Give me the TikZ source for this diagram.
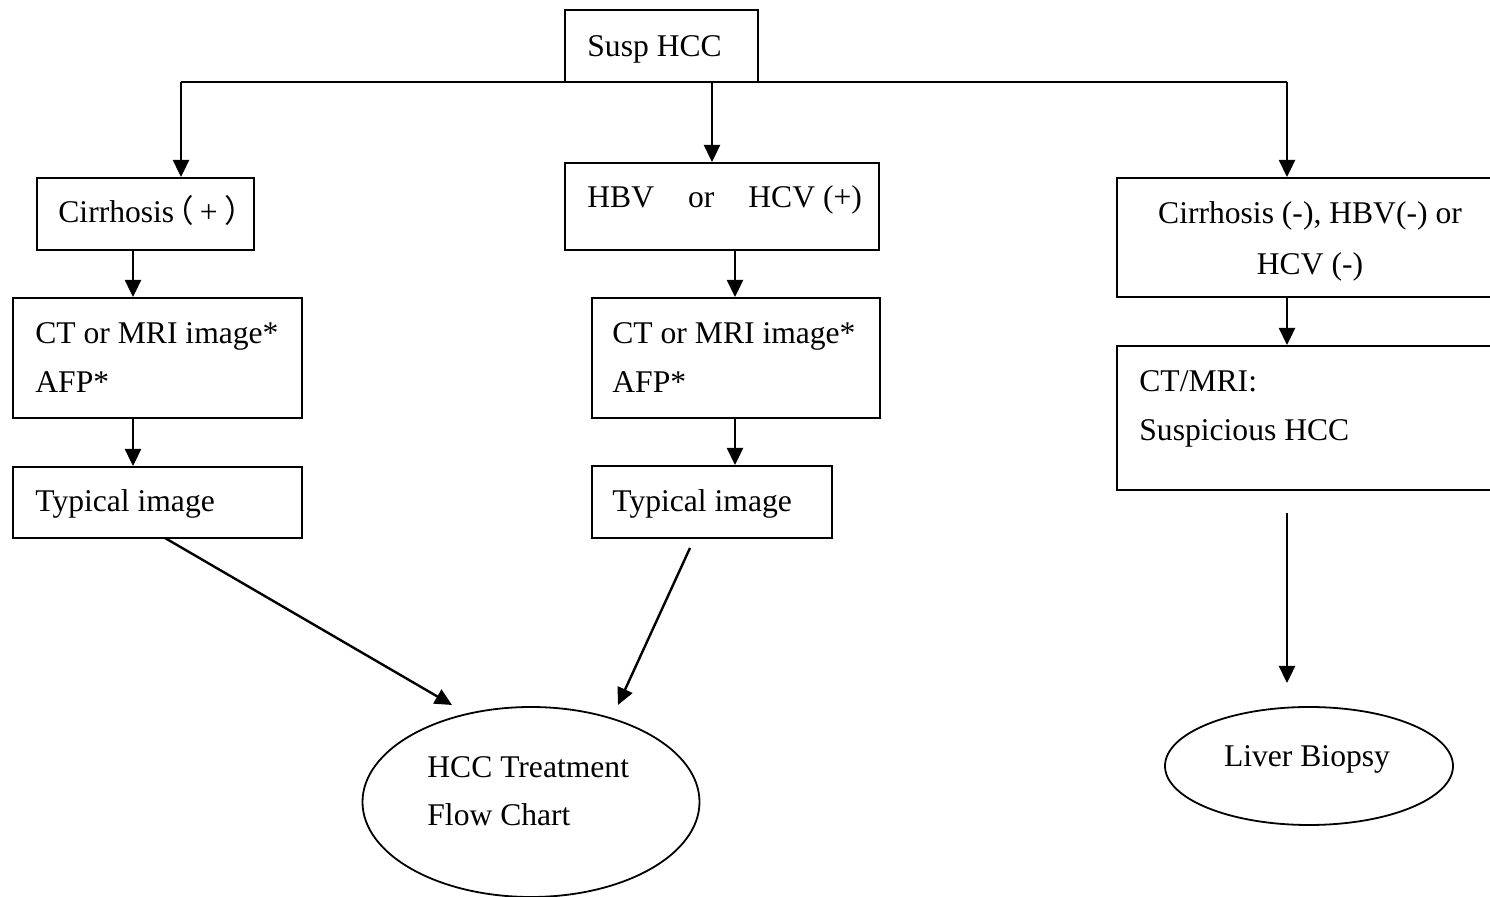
\documentclass[tikz,border=0pt]{standalone}
\usepackage{fontspec}
\setmainfont{Liberation Serif}
\newfontfamily\cjk{Noto Sans CJK SC}
\usetikzlibrary{arrows.meta,fit,shapes.geometric}
\begin{document}
\begin{tikzpicture}[x=0.5pt,y=-0.5pt,
  box/.style={draw,line width=1pt,inner sep=0pt},
  ell/.style={draw,ellipse,line width=0.9pt,inner sep=0pt},
  txt/.style={anchor=base west,inner sep=0pt,font=\fontsize{15.8pt}{24.5pt}\selectfont},
  ctxt/.style={anchor=base,inner sep=0pt,font=\fontsize{15.8pt}{24.5pt}\selectfont},
  arr/.style={-{Triangle[length=8.5pt,width=8pt]},line width=1.2pt},
  ln/.style={line width=1.2pt}]
\useasboundingbox (0,0) rectangle (1490,897);
\clip (0,0) rectangle (1490,897);
% boxes
\node[box,fit={(565,10)(758,82)}] (susp) {};
\node[box,fit={(37,178)(254,250)}] (cir) {};
\node[box,fit={(565,163)(879,250)}] (hbv) {};
\node[box,fit={(1117,178)(1510,297)}] (neg) {};
\node[box,fit={(13,298)(302,418)}] (ct1) {};
\node[box,fit={(592,298)(880,418)}] (ct2) {};
\node[box,fit={(1117,346)(1510,490)}] (ct3) {};
\node[box,fit={(13,467)(302,538)}] (typ1) {};
\node[box,fit={(592,466)(832,538)}] (typ2) {};
\node[ell,minimum width=168.5pt,minimum height=95pt] (hcc) at (531,802) {};
\node[ell,minimum width=144pt,minimum height=59pt] (liver) at (1309,766) {};
% texts
\node[txt] (tsusp) at (587,57) {Susp HCC};
\node[txt] (tcir) at (58,223) {Cirrhosis\kern-6pt{\cjk（}\kern3pt+\kern3.5pt{\cjk）}};
\node[txt] (thbv) at (587,208) {HBV\hspace*{17pt}or\hspace*{17pt}HCV (+)};
\node[ctxt] (tneg1) at (1310,224) {Cirrhosis (-), HBV(-) or};
\node[ctxt] (tneg2) at (1310,275) {HCV (-)};
\node[txt] (tct1a) at (35,344) {CT or MRI image*};
\node[txt] (tct1b) at (35,393) {AFP*};
\node[txt] (tct2a) at (612,344) {CT or MRI image*};
\node[txt] (tct2b) at (612,393) {AFP*};
\node[txt] (ttyp1) at (35,512) {Typical image};
\node[txt] (ttyp2) at (612,512) {Typical image};
\node[txt] (tct3a) at (1139,392) {CT/MRI:};
\node[txt] (tct3b) at (1139,441) {Suspicious HCC};
\node[txt] (thcc1) at (427,778) {HCC Treatment};
\node[txt] (thcc2) at (427,826) {Flow Chart};
\node[ctxt] (tliver) at (1307,767) {Liver Biopsy};
% coordinates
\coordinate (c1) at (181,82);
\coordinate (c2) at (712,82);
\coordinate (c3) at (1287,82);
\coordinate (a1) at (133,0);
\coordinate (a2) at (735,0);
\coordinate (s1) at (165,538);
\coordinate (e1) at (452,705);
\coordinate (s2) at (690,548);
\coordinate (e2) at (618,705);
\coordinate (s3) at (1287,513);
\coordinate (e3) at (1287,683);
% connectors
\draw[ln] (c1) -- (c3);
\draw[arr] (c1) -- (cir.north -| c1);
\draw[arr] (c2) -- (hbv.north -| c2);
\draw[arr] (c3) -- (neg.north -| c3);
\draw[arr] (cir.south -| a1) -- (ct1.north -| a1);
\draw[arr] (ct1.south -| a1) -- (typ1.north -| a1);
\draw[arr] (hbv.south -| a2) -- (ct2.north -| a2);
\draw[arr] (ct2.south -| a2) -- (typ2.north -| a2);
\draw[arr] (neg.south -| c3) -- (ct3.north -| c3);
\draw[arr] (s1) -- (e1);
\draw[arr] (s2) -- (e2);
\draw[arr] (s3) -- (e3);
\end{tikzpicture}
\end{document}
